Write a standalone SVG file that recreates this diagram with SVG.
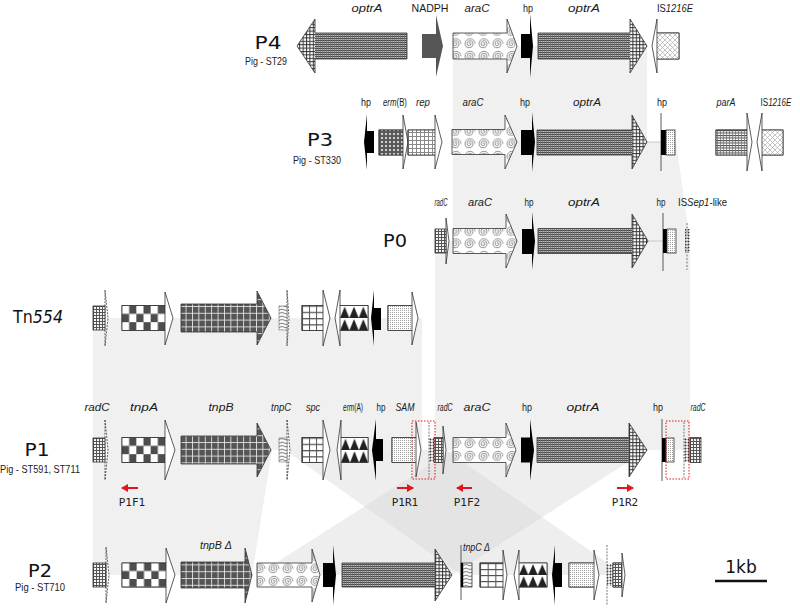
<svg xmlns="http://www.w3.org/2000/svg" width="800" height="609" viewBox="0 0 800 609">
<defs>
<style>
.o{stroke:#333;stroke-width:0.8}
.w{fill:#fff;stroke:#333;stroke-width:0.8}
.nf{fill:none;stroke:#333;stroke-width:0.8}
.k{fill:#000}
.dsh{fill:#fff;stroke:#333;stroke-width:0.8;stroke-dasharray:2 1.2}
.lab{font-family:"Liberation Sans Narrow","Liberation Sans",Arial,sans-serif;font-size:11px;font-style:italic;text-anchor:middle;fill:#1a1a1a}
.sm{font-size:10px}
.up{font-style:normal}
.pl{font-family:"DejaVu Sans",sans-serif;font-size:18px;text-anchor:middle;fill:#111}
.pig{font-family:"Liberation Sans Narrow","Liberation Sans",sans-serif;font-size:11px;text-anchor:middle;fill:#222}
.pr{font-family:"DejaVu Sans Mono",monospace;font-size:11px;text-anchor:middle;fill:#222}
.sh{fill:#f0f0f0}
.band{fill:#d4d4d4;fill-opacity:0.4}
.red{stroke:#e0161b;stroke-width:2;fill:none}
.rbox{fill:none;stroke:#e0161b;stroke-width:1;stroke-dasharray:1.5 1.5}
.bl{stroke:#c8c8c8;stroke-width:1}
</style>
<marker id="ra" markerUnits="userSpaceOnUse" markerWidth="7" markerHeight="8" refX="6" refY="4" orient="auto"><path d="M0,0 L7,4 L0,8 z" fill="#e0161b"/></marker>
<pattern id="pFine" patternUnits="userSpaceOnUse" width="2" height="2"><rect width="2" height="2" fill="#bdbdbd"/><rect width="2" height="1" fill="#4a4a4a"/><rect width="0.6" height="2" fill="#6a6a6a"/></pattern>
<pattern id="pCross" patternUnits="userSpaceOnUse" width="3.4" height="3.4"><rect width="3.4" height="3.4" fill="#fff"/><rect width="3.4" height="1" fill="#333"/><rect width="1" height="3.4" fill="#333"/></pattern>
<pattern id="pRad" patternUnits="userSpaceOnUse" width="3" height="3"><rect width="3" height="3" fill="#f4f4f4"/><rect width="3" height="1" fill="#555"/><rect width="1" height="3" fill="#555"/></pattern>
<pattern id="pTnpB" patternUnits="userSpaceOnUse" width="6.4" height="6.8"><rect width="6.4" height="6.8" fill="#555"/><rect width="6.4" height="0.9" fill="#e0e0e0"/><rect width="0.9" height="6.8" fill="#e0e0e0"/></pattern>
<pattern id="pChk" width="0.33334" height="0.66667" patternContentUnits="objectBoundingBox"><rect width="0.33334" height="0.66667" fill="#fff"/><rect x="0.16667" y="0" width="0.16667" height="0.33334" fill="#4d4d4d"/><rect x="0" y="0.33333" width="0.16667" height="0.33334" fill="#4d4d4d"/></pattern>
<pattern id="pSpc" width="0.33334" height="0.25" patternContentUnits="objectBoundingBox"><rect width="0.33334" height="0.25" fill="#fff"/><rect width="0.33334" height="0.05" fill="#555"/><rect width="0.045" height="0.25" fill="#555"/></pattern>
<pattern id="pTri" width="0.33334" height="0.5" patternContentUnits="objectBoundingBox"><rect width="0.33334" height="0.5" fill="#fff"/><polygon points="0,0.5 0.16667,0.05 0.33334,0.5" fill="#222"/></pattern>
<pattern id="pSwirl" patternUnits="userSpaceOnUse" width="14" height="12.5"><rect width="14" height="12.5" fill="#fff"/><path d="M7,6.25 A1,1 0 0 1 9,6.25 A2,2 0 0 1 5,6.25 A3,3 0 0 1 11,6.25 A4,4 0 0 1 3,6.25 A5,5 0 0 1 13,6.25" fill="none" stroke="#777" stroke-width="0.8"/></pattern>
<pattern id="pStip" patternUnits="userSpaceOnUse" width="2" height="2"><rect width="2" height="2" fill="#fff"/><rect width="1" height="1" fill="#a0a0a0"/></pattern>
<pattern id="pWave" patternUnits="userSpaceOnUse" width="8" height="3.5"><rect width="8" height="3.5" fill="#fff"/><path d="M0,1.75 q2,-1.5 4,0 t4,0" fill="none" stroke="#222" stroke-width="0.7"/></pattern>
<pattern id="pIS" patternUnits="userSpaceOnUse" width="5" height="5"><rect width="5" height="5" fill="#fff"/><path d="M0,0 L5,5 M5,0 L0,5" stroke="#a0a0a0" stroke-width="0.6"/></pattern>
<pattern id="pErmB" patternUnits="userSpaceOnUse" width="4" height="4"><rect width="4" height="4" fill="#5a5a5a"/><rect x="1" y="1" width="2" height="2" fill="#cfcfcf"/></pattern>
<pattern id="pRep" patternUnits="userSpaceOnUse" width="4" height="4"><rect width="4" height="4" fill="#fff"/><rect width="4" height="1" fill="#8a8a8a"/><rect width="1" height="4" fill="#8a8a8a"/></pattern>
<pattern id="pParA" patternUnits="userSpaceOnUse" width="3" height="2.5"><rect width="3" height="2.5" fill="#fff"/><rect width="3" height="1" fill="#444"/><rect width="0.8" height="2.5" fill="#777"/></pattern>
<pattern id="pISSep" patternUnits="userSpaceOnUse" width="3" height="3"><rect width="3" height="3" fill="#fff"/><circle cx="1.5" cy="1.5" r="1" fill="#333"/></pattern>
</defs>
<rect width="800" height="609" fill="#fff"/>

<g id="connectors">
<polygon class="sh" points="453,46 647,46 647,142 453,142"/>
<polygon class="sh" points="453,142 676,142 690,241 453,241"/>
<polygon class="sh" points="435,241 690,241 690,450 435,450"/>
<polygon class="sh" points="93,318 422,318 422,450 93,450"/>
<polygon class="sh" points="93,450 272,450 252,575 93,575"/>
<polygon class="band" points="453,450 647,450 452,575 257,575"/>
<polygon class="band" points="285,450 446,450 625,575 461,575"/>
<line class="bl" x1="647" y1="142" x2="661" y2="142"/>
<line class="bl" x1="648" y1="241" x2="663" y2="241"/>
</g>

<!-- P4 -->
<g id="P4-label"><text class="pl" x="268" y="49" textLength="27" lengthAdjust="spacingAndGlyphs">P4</text><text class="pig" x="266" y="65" textLength="42" lengthAdjust="spacingAndGlyphs">Pig - ST29</text></g>
<g id="P4-optrA1"><rect x="315" y="33" width="92" height="26" fill="url(#pFine)"/><polygon points="315,19 297,46 315,73" fill="url(#pCross)"/><polygon class="nf" points="407,33 315,33 315,19 297,46 315,73 315,59 407,59"/><text class="lab" x="367" y="12" textLength="31" lengthAdjust="spacingAndGlyphs">optrA</text></g>
<g id="P4-NADPH"><rect x="422" y="34" width="14" height="24" fill="#555"/><polygon points="436,15 443,46 436,77" fill="#555"/><text class="lab up" x="430" y="12" textLength="37" lengthAdjust="spacingAndGlyphs">NADPH</text></g>
<g id="P4-araC"><polygon class="o" fill="url(#pSwirl)" points="453,33 507,33 507,19 517,46 507,73 507,59 453,59"/><text class="lab" x="477" y="12" textLength="25" lengthAdjust="spacingAndGlyphs">araC</text></g>
<g id="P4-hp"><rect class="k" x="521" y="34" width="9" height="24"/><polygon class="k" points="530,14 533,46 530,78"/><text class="lab up" x="528" y="12" textLength="10" lengthAdjust="spacingAndGlyphs">hp</text></g>
<g id="P4-optrA2"><rect x="538" y="33" width="92" height="26" fill="url(#pFine)"/><polygon points="630,19 647,46 630,73" fill="url(#pCross)"/><polygon class="nf" points="538,33 630,33 630,19 647,46 630,73 630,59 538,59"/><text class="lab" x="584" y="12" textLength="32" lengthAdjust="spacingAndGlyphs">optrA</text></g>
<g id="P4-IS1216E"><polygon class="w" points="679,33 657,33 657,19 652,46 657,73 657,59 679,59"/><rect class="o" x="657" y="33" width="22" height="26" fill="url(#pIS)"/><text class="lab" x="675" y="12" textLength="36" lengthAdjust="spacingAndGlyphs"><tspan class="up">IS</tspan>1216E</text></g>

<!-- P3 -->
<g id="P3-label"><text class="pl" x="320" y="146" textLength="26" lengthAdjust="spacingAndGlyphs">P3</text><text class="pig" x="317" y="164" textLength="48" lengthAdjust="spacingAndGlyphs">Pig - ST330</text></g>
<g id="P3-hp1"><polygon class="k" points="367,114 364,142 367,170"/><rect class="k" x="367" y="131" width="7" height="22"/><text class="lab up sm" x="366" y="106" textLength="10" lengthAdjust="spacingAndGlyphs">hp</text></g>
<g id="P3-ermB"><polygon class="w" points="379,130 403,130 403,115 408,142 403,169 403,155 379,155"/><rect class="o" x="379" y="130" width="24" height="25" fill="url(#pErmB)"/><text class="lab sm" x="395" y="106" textLength="24" lengthAdjust="spacingAndGlyphs">erm<tspan class="up">(B)</tspan></text></g>
<g id="P3-rep"><polygon class="w" points="408,130 435,130 435,115 442,142 435,169 435,155 408,155"/><rect class="o" x="408" y="130" width="27" height="25" fill="url(#pRep)"/><text class="lab sm" x="423" y="106" textLength="14" lengthAdjust="spacingAndGlyphs">rep</text></g>
<g id="P3-araC"><polygon class="o" fill="url(#pSwirl)" points="452,129.5 505,129.5 505,115 517,142 505,169 505,154.5 452,154.5"/><text class="lab" x="473" y="106" textLength="21" lengthAdjust="spacingAndGlyphs">araC</text></g>
<g id="P3-hp2"><rect class="k" x="521" y="130" width="11" height="25"/><polygon class="k" points="532,112 535,142 532,172"/><text class="lab up" x="525" y="106" textLength="10" lengthAdjust="spacingAndGlyphs">hp</text></g>
<g id="P3-optrA"><rect x="537" y="130" width="95" height="25" fill="url(#pFine)"/><polygon points="632,115 647,142 632,169" fill="url(#pCross)"/><polygon class="nf" points="537,130 632,130 632,115 647,142 632,169 632,155 537,155"/><text class="lab" x="587" y="106" textLength="28" lengthAdjust="spacingAndGlyphs">optrA</text></g>
<g id="P3-hp3"><line x1="661" y1="113" x2="661" y2="171" stroke="#333" stroke-width="0.8"/><rect class="k" x="661" y="130" width="5" height="25"/><rect class="o" x="666" y="130" width="9" height="25" fill="url(#pStip)"/><text class="lab up" x="662" y="106" textLength="10" lengthAdjust="spacingAndGlyphs">hp</text></g>
<g id="P3-parA"><polygon class="w" points="716,130 747,130 747,113 752,142 747,171 747,155 716,155"/><rect class="o" x="716" y="130" width="31" height="25" fill="url(#pParA)"/><text class="lab sm" x="726" y="106" textLength="19" lengthAdjust="spacingAndGlyphs">parA</text></g>
<g id="P3-IS1216E"><polygon class="w" points="783,130 762,130 762,113 757,142 762,171 762,155 783,155"/><rect class="o" x="762" y="130" width="21" height="25" fill="url(#pIS)"/><text class="lab sm" x="776" y="106" textLength="31" lengthAdjust="spacingAndGlyphs"><tspan class="up">IS</tspan>1216E</text></g>

<!-- P0 -->
<g id="P0-label"><text class="pl" x="395" y="247" textLength="24" lengthAdjust="spacingAndGlyphs">P0</text></g>
<g id="P0-radC"><polygon class="w" points="446,218 449,241 446,264"/><rect class="o" x="435" y="229" width="11" height="24" fill="url(#pRad)"/><text class="lab" x="441" y="206" textLength="13" lengthAdjust="spacingAndGlyphs">radC</text></g>
<g id="P0-araC"><polygon class="o" fill="url(#pSwirl)" points="453,228.5 506,228.5 506,214 517,241 506,268 506,253.5 453,253.5"/><text class="lab" x="480" y="206" textLength="24" lengthAdjust="spacingAndGlyphs">araC</text></g>
<g id="P0-hp1"><rect class="k" x="522" y="229" width="10" height="25"/><polygon class="k" points="532,212 535,241 532,270"/><text class="lab up" x="529" y="206" textLength="9" lengthAdjust="spacingAndGlyphs">hp</text></g>
<g id="P0-optrA"><rect x="538" y="228.5" width="94" height="25" fill="url(#pFine)"/><polygon points="632,214 648,241 632,268" fill="url(#pCross)"/><polygon class="nf" points="538,228.5 632,228.5 632,214 648,241 632,268 632,253.5 538,253.5"/><text class="lab" x="584" y="206" textLength="32" lengthAdjust="spacingAndGlyphs">optrA</text></g>
<g id="P0-hp2"><line x1="663" y1="213" x2="663" y2="271" stroke="#333" stroke-width="0.8"/><rect class="k" x="663" y="229" width="4" height="24"/><rect class="o" x="667" y="229" width="9" height="24" fill="url(#pStip)"/><text class="lab up" x="661" y="206" textLength="9" lengthAdjust="spacingAndGlyphs">hp</text></g>
<g id="P0-ISSep1"><rect x="685" y="229" width="5" height="24" fill="url(#pISSep)"/><line x1="687" y1="223" x2="687" y2="270" stroke="#555" stroke-width="0.8" stroke-dasharray="2 1.5"/><text class="lab up" x="678" y="206" style="text-anchor:start" textLength="49" lengthAdjust="spacingAndGlyphs">IS<tspan style="font-style:italic">Sep1</tspan>-like</text></g>

<!-- Tn554 -->
<g id="Tn554-label"><text class="pl" x="13" y="323" style="text-anchor:start" textLength="50" lengthAdjust="spacingAndGlyphs">Tn<tspan style="font-style:italic">554</tspan></text></g>
<g id="Tn554-radC"><polygon class="dsh" points="105,290 108,318 105,346"/><rect class="o" x="93" y="306" width="12" height="24" fill="url(#pRad)"/></g>
<g id="Tn554-tnpA"><polygon class="w" points="122,305.5 165,305.5 165,292 173,318 165,345 165,330.5 122,330.5"/><rect class="o" x="122" y="305.5" width="43" height="25" fill="url(#pChk)"/></g>
<g id="Tn554-tnpB"><polygon class="o" fill="url(#pTnpB)" points="181,304 257,304 257,291 271,318 257,345 257,332 181,332"/></g>
<g id="Tn554-tnpC"><polygon class="dsh" points="287,290 289,318 287,346"/><rect x="279" y="306" width="8" height="24" fill="url(#pWave)" stroke="#555" stroke-width="0.5"/></g>
<g id="Tn554-spc"><polygon class="w" points="302,305.5 323,305.5 323,290 330,318 323,346 323,330.5 302,330.5"/><rect class="o" x="302" y="305.5" width="21" height="25" fill="url(#pSpc)"/></g>
<g id="Tn554-ermA"><polygon class="w" points="368,305.5 340,305.5 340,290 335,318 340,346 340,330.5 368,330.5"/><rect class="o" x="340" y="305.5" width="28" height="25" fill="url(#pTri)"/></g>
<g id="Tn554-hp"><polygon class="k" points="374,290 371,318 374,346"/><rect class="k" x="374" y="308" width="7" height="22"/></g>
<g id="Tn554-SAM"><polygon class="w" points="388,305.5 412,305.5 412,292 418,318 412,345 412,330.5 388,330.5"/><rect class="o" x="388" y="305.5" width="24" height="25" fill="url(#pStip)"/></g>

<!-- P1 -->
<g id="P1-label"><text class="pl" x="37" y="456" textLength="25" lengthAdjust="spacingAndGlyphs">P1</text><text class="pig" x="40" y="473" textLength="80" lengthAdjust="spacingAndGlyphs">Pig - ST591, ST711</text></g>
<g id="P1-radC1"><polygon class="dsh" points="105,420 108,450 105,480"/><rect class="o" x="93" y="438" width="12" height="24" fill="url(#pRad)"/><text class="lab" x="97" y="411" textLength="25" lengthAdjust="spacingAndGlyphs">radC</text></g>
<g id="P1-tnpA"><polygon class="w" points="122,437.5 165,437.5 165,420 175,450 165,480 165,462.5 122,462.5"/><rect class="o" x="122" y="437.5" width="43" height="25" fill="url(#pChk)"/><text class="lab" x="144" y="411" textLength="28" lengthAdjust="spacingAndGlyphs">tnpA</text></g>
<g id="P1-tnpB"><polygon class="o" fill="url(#pTnpB)" points="181,436 257,436 257,423 271,450 257,477 257,464 181,464"/><text class="lab" x="221" y="411" textLength="25" lengthAdjust="spacingAndGlyphs">tnpB</text></g>
<g id="P1-tnpC"><polygon class="dsh" points="287,420 290,450 287,480"/><rect x="279" y="438" width="8" height="24" fill="url(#pWave)" stroke="#555" stroke-width="0.5"/><text class="lab" x="281" y="411" textLength="20" lengthAdjust="spacingAndGlyphs">tnpC</text></g>
<g id="P1-spc"><polygon class="w" points="302,437.5 323,437.5 323,420 330,450 323,480 323,462.5 302,462.5"/><rect class="o" x="302" y="437.5" width="21" height="25" fill="url(#pSpc)"/><text class="lab sm" x="313" y="411" textLength="14" lengthAdjust="spacingAndGlyphs">spc</text></g>
<g id="P1-ermA"><polygon class="w" points="368,437.5 341,437.5 341,420 337,450 341,480 341,462.5 368,462.5"/><rect class="o" x="341" y="437.5" width="27" height="25" fill="url(#pTri)"/><text class="lab sm" x="353" y="411" textLength="20" lengthAdjust="spacingAndGlyphs">erm<tspan class="up">(A)</tspan></text></g>
<g id="P1-hp1"><polygon class="k" points="376,419 372,450 376,481"/><rect class="k" x="376" y="439" width="7" height="22"/><text class="lab up sm" x="381" y="411" textLength="9" lengthAdjust="spacingAndGlyphs">hp</text></g>
<g id="P1-SAM"><polygon class="w" points="392,437.5 416,437.5 416,422 421,450 416,477 416,462.5 392,462.5"/><rect class="o" x="392" y="437.5" width="24" height="25" fill="url(#pStip)"/><text class="lab" x="405" y="411" textLength="19" lengthAdjust="spacingAndGlyphs">SAM</text></g>
<g id="P1-ISSep1a"><rect x="429" y="438" width="5" height="24" fill="url(#pISSep)"/><line x1="429" y1="422" x2="429" y2="478" stroke="#555" stroke-width="0.8" stroke-dasharray="2 1.2"/></g>
<g id="P1-radC2"><polygon class="w" points="443,426 446,450 443,474"/><rect class="o" x="434" y="437.5" width="9" height="25" fill="url(#pRad)"/><text class="lab" x="445" y="411" textLength="15" lengthAdjust="spacingAndGlyphs">radC</text></g>
<g id="P1-box1"><rect class="rbox" x="412" y="421" width="23" height="58"/></g>
<g id="P1-araC"><polygon class="o" fill="url(#pSwirl)" points="453,437.5 506,437.5 506,423 516,450 506,477 506,462.5 453,462.5"/><text class="lab" x="477" y="411" textLength="27" lengthAdjust="spacingAndGlyphs">araC</text></g>
<g id="P1-hp2"><rect class="k" x="521" y="437.5" width="9" height="25"/><polygon class="k" points="530,419 534,450 530,481"/><text class="lab up" x="527" y="411" textLength="10" lengthAdjust="spacingAndGlyphs">hp</text></g>
<g id="P1-optrA"><rect x="537" y="437.5" width="92" height="25" fill="url(#pFine)"/><polygon points="629,423 647,450 629,477" fill="url(#pCross)"/><polygon class="nf" points="537,437.5 629,437.5 629,423 647,450 629,477 629,462.5 537,462.5"/><text class="lab" x="583" y="411" textLength="33" lengthAdjust="spacingAndGlyphs">optrA</text></g>
<g id="P1-hp3"><line x1="662" y1="419" x2="662" y2="481" stroke="#333" stroke-width="0.8"/><rect class="k" x="662" y="438" width="4" height="24"/><rect class="o" x="666" y="438" width="8" height="24" fill="url(#pStip)"/><text class="lab up" x="658" y="411" textLength="10" lengthAdjust="spacingAndGlyphs">hp</text></g>
<g id="P1-ISSep1b"><rect x="684" y="438" width="6" height="24" fill="url(#pISSep)"/><line x1="684" y1="422" x2="684" y2="478" stroke="#555" stroke-width="0.8" stroke-dasharray="2 1.2"/></g>
<g id="P1-radC3"><rect class="o" x="690" y="437.5" width="11" height="25" fill="url(#pRad)"/><text class="lab" x="698" y="411" textLength="15" lengthAdjust="spacingAndGlyphs">radC</text></g>
<g id="P1-box2"><rect class="rbox" x="666" y="421" width="23" height="58"/></g>
<g id="primers">
<line class="red" x1="138" y1="488" x2="122" y2="488" marker-end="url(#ra)"/><text class="pr" x="132" y="506">P1F1</text>
<line class="red" x1="397" y1="488" x2="413" y2="488" marker-end="url(#ra)"/><text class="pr" x="405" y="506">P1R1</text>
<line class="red" x1="472" y1="488" x2="457" y2="488" marker-end="url(#ra)"/><text class="pr" x="467" y="506">P1F2</text>
<line class="red" x1="617" y1="488" x2="633" y2="488" marker-end="url(#ra)"/><text class="pr" x="625" y="506">P1R2</text>
</g>

<!-- P2 -->
<g id="P2-label"><text class="pl" x="40" y="577" textLength="24" lengthAdjust="spacingAndGlyphs">P2</text><text class="pig" x="40" y="591" textLength="50" lengthAdjust="spacingAndGlyphs">Pig - ST710</text></g>
<g id="P2-radC1"><polygon class="dsh" points="106,547 109,575 106,603"/><rect class="o" x="93" y="563" width="13" height="24" fill="url(#pRad)"/></g>
<g id="P2-tnpA"><polygon class="w" points="122,563 166,563 166,548 175,575 166,603 166,587 122,587"/><rect class="o" x="122" y="563" width="44" height="24" fill="url(#pChk)"/></g>
<g id="P2-tnpB"><polygon class="o" fill="url(#pTnpB)" points="181,562 245,562 245,548 252,575 245,603 245,588 181,588"/><text class="lab" x="216" y="549" textLength="32" lengthAdjust="spacingAndGlyphs">tnpB Δ</text></g>
<g id="P2-araC"><polygon class="o" fill="url(#pSwirl)" points="257,563 312,563 312,549 320,575 312,602 312,587 257,587"/></g>
<g id="P2-hp1"><rect class="k" x="323" y="563" width="10" height="24"/><polygon class="k" points="333,545 336,575 333,605"/></g>
<g id="P2-optrA"><rect x="342" y="563" width="93" height="24" fill="url(#pFine)"/><polygon points="435,549 452,575 435,601" fill="url(#pCross)"/><polygon class="nf" points="342,563 435,563 435,549 452,575 435,601 435,587 342,587"/></g>
<g id="P2-tnpC"><line x1="461" y1="545" x2="461" y2="600" stroke="#333" stroke-width="0.8"/><rect class="o" x="461" y="563" width="11" height="24" fill="url(#pWave)"/><rect x="461" y="563" width="2.2" height="24" fill="#000"/><text class="lab" x="463" y="551" style="text-anchor:start" textLength="27" lengthAdjust="spacingAndGlyphs">tnpC Δ</text></g>
<g id="P2-spc"><polygon class="w" points="480,563 503,563 503,550 507,575 503,600 503,587 480,587"/><rect class="o" x="480" y="563" width="23" height="24" fill="url(#pSpc)"/></g>
<g id="P2-ermA"><polygon class="w" points="547,563 519,563 519,550 514,575 519,600 519,587 547,587"/><rect class="o" x="519" y="563" width="28" height="24" fill="url(#pTri)"/></g>
<g id="P2-hp2"><polygon class="k" points="555,545 552,575 555,605"/><rect class="k" x="554" y="563" width="8" height="24"/></g>
<g id="P2-SAM"><polygon class="w" points="569,563 594,563 594,550 599,575 594,600 594,587 569,587"/><rect class="o" x="569" y="563" width="25" height="24" fill="url(#pStip)"/></g>
<g id="P2-ISSep1"><rect x="607" y="564" width="6" height="22" fill="url(#pISSep)"/><line x1="607" y1="545" x2="607" y2="605" stroke="#555" stroke-width="0.8" stroke-dasharray="2 1.2"/></g>
<g id="P2-radC2"><polygon class="w" points="613,563 622,563 622,553 625,575 622,597 622,587 613,587"/><rect class="o" x="613" y="563" width="9" height="24" fill="url(#pRad)"/></g>

<g id="scale"><text x="741" y="573" style="font-family:'DejaVu Sans',sans-serif;font-size:17px;text-anchor:middle;fill:#111">1kb</text><line x1="715" y1="581" x2="767" y2="581" stroke="#111" stroke-width="2.5"/></g>
</svg>
